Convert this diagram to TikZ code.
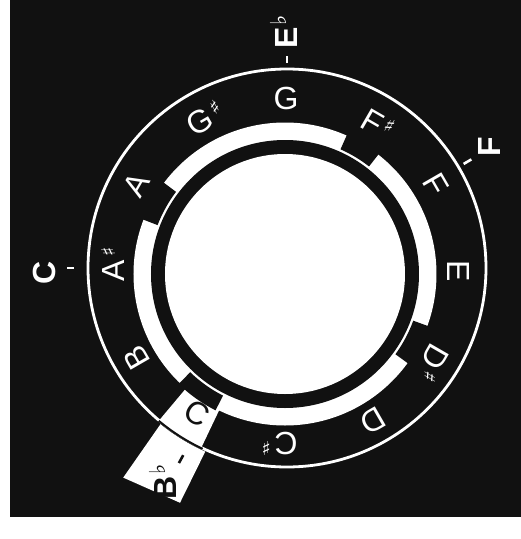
\documentclass[tikz,border=0pt]{standalone}
\usepackage{fontspec}
\setmainfont{Liberation Sans}
\newfontfamily\symf{DejaVu Sans}
\usetikzlibrary{calc}
\definecolor{ink}{RGB}{17,17,17}
\newcommand\shp{\rlap{\kern3.5pt\raisebox{9pt}{\fontsize{19}{19}\selectfont\symf ♯}}}
\newcommand\flt{\rlap{\kern1.5pt\raisebox{11pt}{\fontsize{22}{22}\selectfont\symf\bfseries ♭}}}
\begin{document}
\begin{tikzpicture}[x=1pt,y=1pt,
  note/.style={text=white, font=\fontsize{32}{32}\selectfont, inner sep=0pt},
  keylab/.style={font=\fontsize{32}{32}\selectfont\bfseries, inner sep=0pt, rotate=90},
  tickline/.style={draw=white, line width=2.6pt},
  gapcut/.style={fill=ink},
]
\useasboundingbox (-286,-268) rectangle (235,271);
\fill[white] (-286,-268) rectangle (235,271);
\fill[ink] (-276,-246) rectangle (235,271);

% C window in the note ring (about O1)
\begin{scope}[shift={(1,3)}]
  \fill[white] (-130:150) arc[start angle=-130, end angle=-115.5, radius=150]
     -- (-115.5:199) arc[start angle=-115.5, end angle=-130, radius=199] -- cycle;
\end{scope}

% inner disc, black ring, white band with cut-outs (about O2)
\begin{scope}[shift={(-1,-3)}]
  \fill[white] (0,0) circle (151.5);
  \fill[ink] (0,0) circle (134);
  \fill[white] (0,0) circle (120);
  \foreach \a/\b in {143/159, 52/66, -36/-20, -134/-117} {
    \fill[gapcut] (\a:136.5) arc[start angle=\a, end angle=\b, radius=136.5]
       -- (\b:153) arc[start angle=\b, end angle=\a, radius=153] -- cycle;
  }
\end{scope}

% outer circle, B flat pointer (about O1)
\begin{scope}[shift={(1,3)}]
  \draw[white, line width=2.8pt] (0,0) circle (199);
  \fill[white] (-129:201) -- (-128:266) -- (-114.5:258) -- (-114:201)
     arc[start angle=-114, end angle=-129, radius=201] -- cycle;
  \draw[ink, line width=2pt] (-130:199.5) arc[start angle=-130, end angle=-115, radius=199.5];

  \coordinate (tEb1) at (90:205); \coordinate (tEb2) at (90:212);
  \coordinate (tF1) at (30.5:205); \coordinate (tF2) at (30.5:214);
  \coordinate (tC1) at (180:213); \coordinate (tC2) at (180:220);
  \coordinate (tBb1) at (-119:214); \coordinate (tBb2) at (-119:223);
  \draw[tickline] (tEb1) -- (tEb2);
  \draw[tickline] (tF1) -- (tF2);
  \draw[tickline] (tC1) -- (tC2);
  \draw[tickline, draw=ink] (tBb1) -- (tBb2);

  \node[keylab, text=white] (kEb) at (-3,230) {E\flt};
  \node[keylab, text=white] (kF) at (202,121) {F};
  \node[keylab, text=white] (kC) at (-243,-5) {C};
  \node[keylab, text=ink] (kBb) at (-124,-220) {B\flt};
\end{scope}

% note letters
\foreach \n/\t/\a in {nG/G/90, nFs/F\shp/60, nF/F/30, nE/E/0, nDs/D\shp/-30,
    nD/D/-60, nCs/C\shp/-90, nB/B/-150, nAs/A\shp/180, nA/A/150, nGs/G\shp/120}
  \node[note, rotate=\a-90] (\n) at (\a:173) {\t};
\node[note, text=ink, rotate=-32] (nC) at (-122:168) {C};
\end{tikzpicture}
\end{document}
